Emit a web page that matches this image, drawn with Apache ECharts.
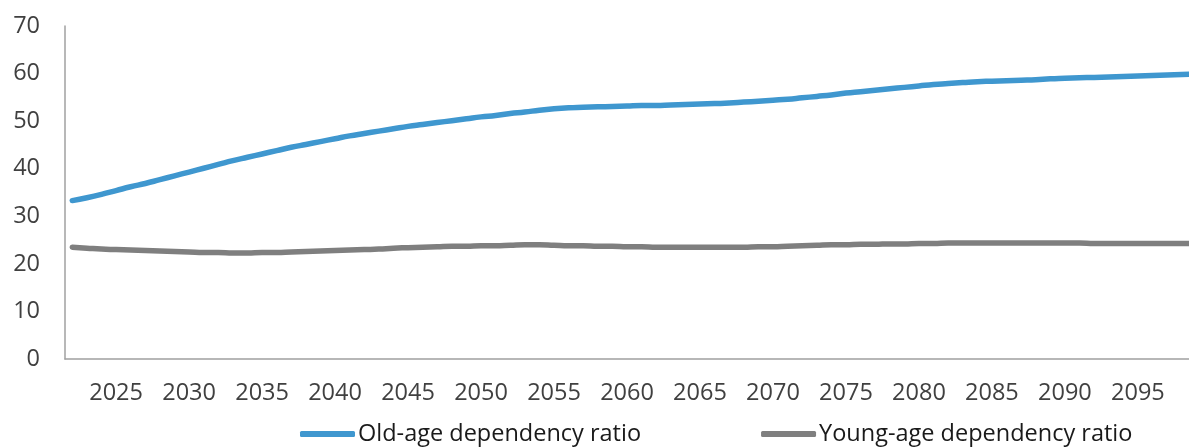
<!DOCTYPE html>
<html>
<head>
<meta charset="utf-8">
<script src="https://cdn.jsdelivr.net/npm/echarts@6/dist/echarts.min.js"></script>
<style>html,body{margin:0;padding:0;background:#fff}#c{width:1189px;height:447px}</style>
</head>
<body>
<div id="c"></div>
<script>
const years = [];
for (let y = 2022; y <= 2100; y++) years.push(y);

const tickYears = [2025, 2030, 2035, 2040, 2045, 2050, 2055, 2060, 2065, 2070, 2075, 2080, 2085, 2090, 2095];

const oldAge = [
  33.3, 33.9, 34.6, 35.4, 36.2, 36.9, 37.7, 38.5, 39.3, 40.1,
  40.9, 41.7, 42.4, 43.1, 43.8, 44.5, 45.1, 45.7, 46.3, 46.9,
  47.4, 47.9, 48.4, 48.9, 49.3, 49.7, 50.1, 50.5, 50.9, 51.2,
  51.6, 51.9, 52.3, 52.6, 52.8, 52.9, 53.0, 53.1, 53.2, 53.3,
  53.3, 53.4, 53.5, 53.6, 53.7, 53.8, 54.0, 54.2, 54.4, 54.6,
  54.9, 55.2, 55.5, 55.9, 56.2, 56.5, 56.8, 57.1, 57.4, 57.7,
  57.9, 58.1, 58.3, 58.4, 58.5, 58.6, 58.7, 58.9, 59.0, 59.1,
  59.2, 59.3, 59.4, 59.5, 59.6, 59.7, 59.8, 59.9, 60.0
];

const youngAge = [
  23.5, 23.3, 23.1, 23.0, 22.9, 22.8, 22.7, 22.6, 22.5, 22.4,
  22.4, 22.3, 22.3, 22.4, 22.4, 22.5, 22.6, 22.7, 22.8, 22.9,
  23.0, 23.1, 23.3, 23.4, 23.5, 23.6, 23.7, 23.7, 23.8, 23.8,
  23.9, 24.0, 24.0, 23.9, 23.8, 23.8, 23.7, 23.7, 23.6, 23.6,
  23.5, 23.5, 23.5, 23.5, 23.5, 23.5, 23.5, 23.6, 23.6, 23.7,
  23.8, 23.9, 24.0, 24.0, 24.1, 24.1, 24.2, 24.2, 24.3, 24.3,
  24.4, 24.4, 24.4, 24.4, 24.4, 24.4, 24.4, 24.4, 24.4, 24.4,
  24.3, 24.3, 24.3, 24.3, 24.3, 24.3, 24.3, 24.3, 24.3
];

const seriesNames = ['Old-age dependency ratio', 'Young-age dependency ratio'];

const pairs = arr => years.map((y, i) => [y, arr[i]]);

const chart = echarts.init(document.getElementById('c'), null, {renderer: 'canvas'});
chart.setOption({
  animation: false,
  textStyle: {fontFamily: 'Open Sans'},
  grid: {left: 65, right: 0, top: 26, bottom: 88, containLabel: false},
  legend: {
    data: seriesNames,
    left: 295, top: 417,
    itemWidth: 55, itemHeight: 6, itemGap: 120,
    icon: 'roundRect',
    textStyle: {fontSize: 23.5, color: '#1a1a1a', fontFamily: 'Open Sans', padding: [0, 0, 0, -2]}
  },
  xAxis: {
    type: 'value',
    min: 2021.5, max: 2098.5,
    axisLine: {show: true, lineStyle: {color: '#a0a0a0', width: 1.5}},
    axisTick: {show: false},
    axisLabel: {
      customValues: tickYears,
      formatter: v => String(v),
      fontSize: 23.5, color: '#404040', margin: 22, fontFamily: 'Open Sans'
    },
    splitLine: {show: false}
  },
  yAxis: {
    type: 'value',
    min: 0, max: 70, interval: 10,
    axisLine: {show: true, lineStyle: {color: '#a0a0a0', width: 1.5}},
    axisTick: {show: false},
    axisLabel: {fontSize: 23.5, color: '#404040', margin: 25, fontFamily: 'Open Sans'},
    splitLine: {show: false}
  },
  series: [
    {
      name: seriesNames[0], type: 'line', data: pairs(oldAge), smooth: true,
      showSymbol: false, symbol: 'none', clip: true,
      lineStyle: {color: '#3f97cf', width: 5.5, cap: 'round'},
      itemStyle: {color: '#3f97cf'}
    },
    {
      name: seriesNames[1], type: 'line', data: pairs(youngAge), smooth: true,
      showSymbol: false, symbol: 'none', clip: true,
      lineStyle: {color: '#7f7f7f', width: 5.5, cap: 'round'},
      itemStyle: {color: '#7f7f7f'}
    }
  ]
});
</script>
</body>
</html>
